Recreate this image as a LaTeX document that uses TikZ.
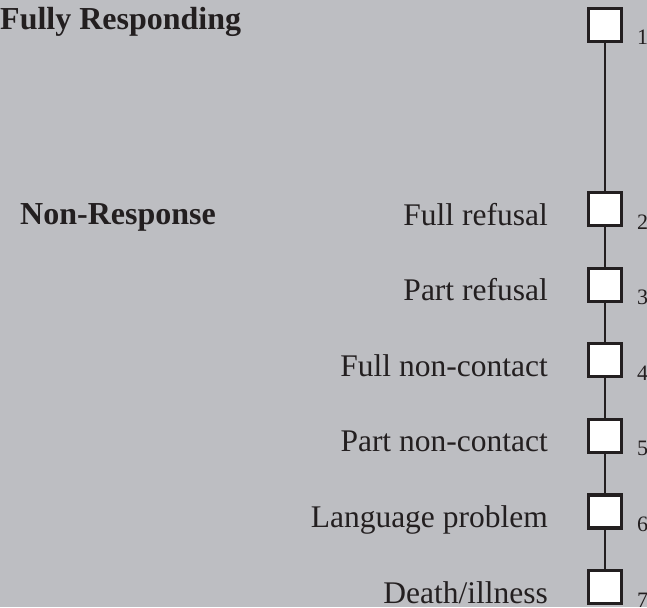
\documentclass[tikz,border=0pt]{standalone}
\usepackage{fontspec}
\setmainfont{Liberation Serif}
\usetikzlibrary{positioning}
\definecolor{bggray}{RGB}{189,190,194}
\definecolor{ink}{RGB}{35,31,32}

\begin{document}
\begin{tikzpicture}[x=1pt,y=-1pt]
	\tikzset{ansbox/.style={draw=ink,fill=white,line width=3.2pt,minimum size=33pt,inner sep=0pt}}
	\tikzset{lbl/.style={anchor=base east,inner sep=0pt,text=ink,font=\fontsize{31.5}{36}\selectfont}}
	\tikzset{head/.style={anchor=base west,inner sep=0pt,text=ink,font=\fontsize{32}{36}\selectfont\bfseries}}
	\tikzset{num/.style={anchor=base west,inner sep=0pt,text=ink,font=\fontsize{22}{26}\selectfont}}
	\fill[bggray] (0,0) rectangle (647,607);
	\useasboundingbox (0,0) rectangle (647,607);

	%% headings
	\node[head] (fully) at (0,30) {Fully Responding};
	\node[head] (nonresp) at (20,224) {Non-Response};

	%% answer boxes
	\node[ansbox] (b1) at (605,25) {};
	\node[ansbox] (b2) at (605,209) {};
	\node[ansbox] (b3) at (605,284.6) {};
	\node[ansbox] (b4) at (605,360.2) {};
	\node[ansbox] (b5) at (605,435.8) {};
	\node[ansbox] (b6) at (605,511.4) {};
	\node[ansbox] (b7) at (605,587) {};
	\path[draw=ink,line width=2.6pt]
		(b1.south) edge (b2.north)
		(b2.south) edge (b3.north)
		(b3.south) edge (b4.north)
		(b4.south) edge (b5.north)
		(b5.south) edge (b6.north)
		(b6.south) edge (b7.north);

	%% labels and codes
	\foreach \i/\txt in {2/Full refusal,3/Part refusal,4/Full non-contact,5/Part non-contact,6/Language problem,7/{Death/illness}}{
		\node[lbl] (l\i) at ([xshift=-57pt,yshift=-16pt]b\i.center) {\txt};
	}
	\foreach \i in {1,...,7}{
		\node[num] (n\i) at ([xshift=32pt,yshift=-20pt]b\i.center) {\i};
	}
\end{tikzpicture}
\end{document}
